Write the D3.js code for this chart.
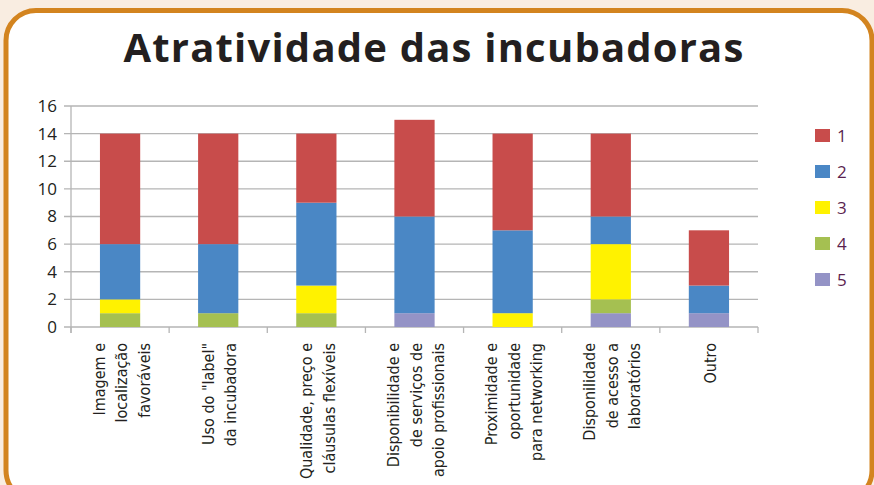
<!DOCTYPE html>
<html><head><meta charset="utf-8">
<script src="https://cdn.jsdelivr.net/npm/d3@7"></script>
<style>
html,body{margin:0;padding:0;background:#f9ede1;}
svg{display:block;}
</style></head>
<body>
<svg id="c" width="874" height="485"></svg>
<script>
const categories = [
  ["Imagem e","localização","favoráveis"],
  ["Uso do \"label\"","da incubadora"],
  ["Qualidade, preço e","cláusulas flexíveis"],
  ["Disponibilidade e","de serviços de","apoio profissionais"],
  ["Proximidade e","oportunidade","para networking"],
  ["Disponilidade","de acesso a","laboratórios"],
  ["Outro"]
];
const seriesNames = ["1","2","3","4","5"];
const s1 = [8, 8, 5, 7, 7, 6, 4];
const s2 = [4, 5, 6, 7, 6, 2, 2];
const s3 = [1, 0, 2, 0, 1, 4, 0];
const s4 = [1, 1, 1, 0, 0, 1, 0];
const s5 = [0, 0, 0, 1, 0, 1, 1];
const yTicks = [0, 2, 4, 6, 8, 10, 12, 14, 16];
const colors = ["#c84c4b", "#4a87c5", "#fff200", "#a5c051", "#9493c6"];
const title = "Atratividade das incubadoras";

const svg = d3.select("#c");
// frame
svg.append("rect").attr("x", 6).attr("y", 10.5).attr("width", 866).attr("height", 490)
  .attr("rx", 30).attr("ry", 30).attr("fill", "#ffffff").attr("stroke", "#d3841f").attr("stroke-width", 5);

svg.append("text").attr("x", 434).attr("y", 62).attr("text-anchor", "middle")
  .attr("font-family", "'Open Sans', sans-serif").attr("font-weight", 700).attr("font-size", 40)
  .attr("letter-spacing", 1.2)
  .attr("fill", "#231f20").text(title);

const pLeft = 71, pRight = 758, pTop = 106, pBottom = 327;
const x = d3.scaleBand().domain(d3.range(categories.length)).range([pLeft, pRight]).paddingInner(0.59).paddingOuter(0.295);
const y = d3.scaleLinear().domain([0, 16]).range([pBottom, pTop]);

// gridlines
svg.append("g").selectAll("line").data(yTicks).join("line")
  .attr("x1", pLeft - 7).attr("x2", pRight).attr("y1", d => y(d)).attr("y2", d => y(d))
  .attr("stroke", "#b5b5b5").attr("stroke-width", 1.3);

// y axis
const yAxis = svg.append("g").attr("transform", `translate(${pLeft},0)`)
  .call(d3.axisLeft(y).tickValues(yTicks).tickSize(0).tickPadding(14));
yAxis.select(".domain").remove();
yAxis.selectAll("text").attr("font-family", "'Open Sans', sans-serif").attr("font-size", 17).attr("fill", "#231f20");
svg.append("line").attr("x1", pLeft).attr("x2", pLeft).attr("y1", pTop).attr("y2", pBottom + 6)
  .attr("stroke", "#b5b5b5").attr("stroke-width", 1.3);

// x category tick separators
const step = x.step();
svg.append("g").selectAll("line").data(d3.range(categories.length + 1)).join("line")
  .attr("x1", i => pLeft + i * step).attr("x2", i => pLeft + i * step)
  .attr("y1", pBottom).attr("y2", pBottom + 6).attr("stroke", "#b5b5b5").attr("stroke-width", 1.3);

// stacked bars
const seriesData = [s1, s2, s3, s4, s5];
const rows = categories.map((c, i) => {
  const o = {i};
  seriesNames.forEach((n, k) => o[n] = seriesData[k][i]);
  return o;
});
const stack = d3.stack().keys(["5","4","3","2","1"])(rows);
const colorOf = n => colors[seriesNames.indexOf(n)];
svg.append("g").selectAll("g").data(stack).join("g").attr("fill", d => colorOf(d.key))
  .selectAll("rect").data(d => d).join("rect")
  .attr("x", d => x(d.data.i)).attr("width", x.bandwidth())
  .attr("y", d => y(d[1])).attr("height", d => y(d[0]) - y(d[1]));

// x labels
const xl = svg.append("g");
categories.forEach((lines, i) => {
  const cx = x(i) + x.bandwidth() / 2;
  const lh = 22.5;
  const n = lines.length;
  lines.forEach((t, j) => {
    const off = (j - (n - 1) / 2) * lh;
    xl.append("text")
      .attr("transform", `translate(${cx + off + 7},343) rotate(-90)`)
      .attr("text-anchor", "end")
      .attr("font-family", "'Liberation Sans Narrow','DejaVu Sans Condensed',sans-serif")
      .attr("font-size", 16).attr("fill", "#231f20").text(t);
  });
});

// legend
const lg = svg.append("g");
seriesNames.forEach((n, k) => {
  const yy = 129 + k * 36;
  lg.append("rect").attr("x", 815).attr("y", yy).attr("width", 15).attr("height", 13).attr("fill", colors[k]);
  lg.append("text").attr("x", 837).attr("y", yy + 13).attr("font-family", "'Open Sans', sans-serif")
    .attr("font-size", 17).attr("fill", "#5b1f4f").text(n);
});
</script>
</body></html>
